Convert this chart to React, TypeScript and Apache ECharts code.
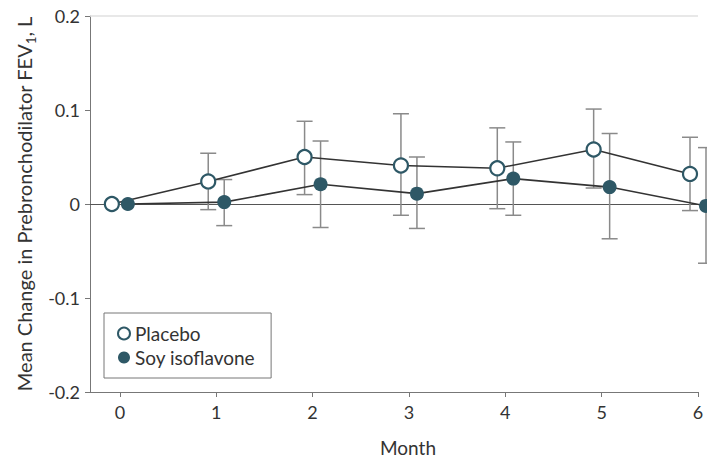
import React, { useEffect, useRef } from "react";
import * as echarts from "echarts";

const months = [0, 1, 2, 3, 4, 5, 6];
const monthTicks = [0, 1, 2, 3, 4, 5, 6];
const placeboMean = [0, 0.024, 0.05, 0.041, 0.038, 0.058, 0.032];
const placeboLower = [null, -0.006, 0.01, -0.012, -0.005, 0.017, -0.007];
const placeboUpper = [null, 0.054, 0.088, 0.096, 0.081, 0.101, 0.071];
const soyMean = [0, 0.002, 0.021, 0.011, 0.027, 0.018, -0.002];
const soyLower = [null, -0.023, -0.025, -0.026, -0.012, -0.037, -0.063];
const soyUpper = [null, 0.026, 0.067, 0.05, 0.066, 0.075, 0.06];

const TEAL = "#2e5866";
const FONT = "Lato";
const OFFSET = 0.083;

function errData(lower: (number | null)[], upper: (number | null)[], off: number) {
  const out: number[][] = [];
  months.forEach((m, i) => {
    if (lower[i] != null && upper[i] != null) out.push([m + off, lower[i] as number, upper[i] as number]);
  });
  return out;
}

function renderErr(params: any, api: any) {
  const x = api.value(0);
  const lo = api.coord([x, api.value(1)]);
  const hi = api.coord([x, api.value(2)]);
  const w = 8;
  const style = { stroke: "#8a8a8a", lineWidth: 1.5 };
  return {
    type: "group",
    children: [
      { type: "line", shape: { x1: lo[0], y1: lo[1], x2: hi[0], y2: hi[1] }, style },
      { type: "line", shape: { x1: lo[0] - w, y1: lo[1], x2: lo[0] + w, y2: lo[1] }, style },
      { type: "line", shape: { x1: hi[0] - w, y1: hi[1], x2: hi[0] + w, y2: hi[1] }, style },
    ],
  };
}

export default function App() {
  const ref = useRef<HTMLDivElement>(null);
  useEffect(() => {
    if (!ref.current) return;
    const chart = echarts.init(ref.current, null, { renderer: "svg" });
    chart.setOption({
      animation: false,
      textStyle: { fontFamily: FONT },
      grid: { left: 90, right: 9, top: 16, bottom: 70, containLabel: false },
      legend: {
        orient: "vertical",
        left: 104,
        top: 313,
        padding: [11, 16, 11, 13],
        borderColor: "#777",
        borderWidth: 1,
        itemGap: 5,
        itemWidth: 12,
        itemHeight: 12,
        textStyle: { fontFamily: FONT, fontSize: 19, color: "#333" },
        data: [
          { name: "Placebo", icon: "circle", itemStyle: { color: "#fff", borderColor: TEAL, borderWidth: 2 } },
          { name: "Soy isoflavone", icon: "circle", itemStyle: { color: TEAL, borderColor: TEAL, borderWidth: 0 } },
        ],
      },
      xAxis: {
        type: "value",
        min: -0.31,
        max: 6,
        name: "Month",
        nameLocation: "middle",
        nameGap: 46,
        nameTextStyle: { fontFamily: FONT, fontSize: 19, color: "#333", padding: [0, 0, 0, 28] },
        axisLine: { show: true, onZero: false, lineStyle: { color: "#777", width: 1 } },
        axisTick: { show: true, length: 5, customValues: monthTicks, lineStyle: { color: "#777" } },
        axisLabel: { customValues: monthTicks, fontFamily: FONT, fontSize: 18, color: "#333", margin: 11 },
        splitLine: { show: false },
      },
      yAxis: {
        type: "value",
        min: -0.2,
        max: 0.2,
        interval: 0.1,
        name: "{a|Mean Change in Prebronchodilator FEV}{s|1}{a|, L}",
        nameLocation: "middle",
        nameRotate: 90,
        nameGap: 50,
        nameTextStyle: {
          rich: {
            a: { fontFamily: FONT, fontSize: 20, color: "#333", lineHeight: 26 },
            s: { fontFamily: FONT, fontSize: 13, color: "#333", lineHeight: 26, verticalAlign: "bottom" },
          },
        },
        axisLine: { show: true, onZero: false, lineStyle: { color: "#777", width: 1 } },
        axisTick: { show: true, length: 5, lineStyle: { color: "#777" } },
        axisLabel: {
          fontFamily: FONT,
          fontSize: 18,
          color: "#333",
          margin: 10,
          formatter: (v: number) => (Math.abs(v) < 1e-9 ? "0" : v.toFixed(1)),
        },
        splitLine: { show: false },
      },
      series: [
        {
          type: "custom",
          name: "errP",
          renderItem: renderErr,
          data: errData(placeboLower, placeboUpper, -OFFSET),
          encode: { x: 0, y: [1, 2] },
          z: 2,
          silent: true,
          markLine: {
            z: 1,
            silent: true,
            symbol: "none",
            label: { show: false },
            data: [
              { yAxis: 0, lineStyle: { color: "#555", width: 1, type: "solid" } },
              { yAxis: 0.2, lineStyle: { color: "#e0e0e0", width: 1.5, type: "solid" } },
            ],
          },
        },
        {
          type: "custom",
          name: "errS",
          renderItem: renderErr,
          data: errData(soyLower, soyUpper, OFFSET),
          encode: { x: 0, y: [1, 2] },
          z: 2,
          silent: true,
        },
        {
          type: "line",
          name: "Placebo",
          data: months.map((m, i) => [m - OFFSET, placeboMean[i]]),
          symbol: "circle",
          symbolSize: 14,
          clip: false,
          z: 4,
          lineStyle: { color: "#333", width: 1.6 },
          itemStyle: { color: "#fff", borderColor: TEAL, borderWidth: 2.2 },
        },
        {
          type: "line",
          name: "Soy isoflavone",
          data: months.map((m, i) => [m + OFFSET, soyMean[i]]),
          symbol: "circle",
          symbolSize: 14,
          clip: false,
          z: 5,
          lineStyle: { color: "#333", width: 1.6 },
          itemStyle: { color: TEAL, borderColor: TEAL, borderWidth: 0 },
        },
      ],
    });
    return () => chart.dispose();
  }, []);
  return <div ref={ref} style={{ width: 707, height: 462, position: "absolute", left: 0, top: 0 }} />;
}
